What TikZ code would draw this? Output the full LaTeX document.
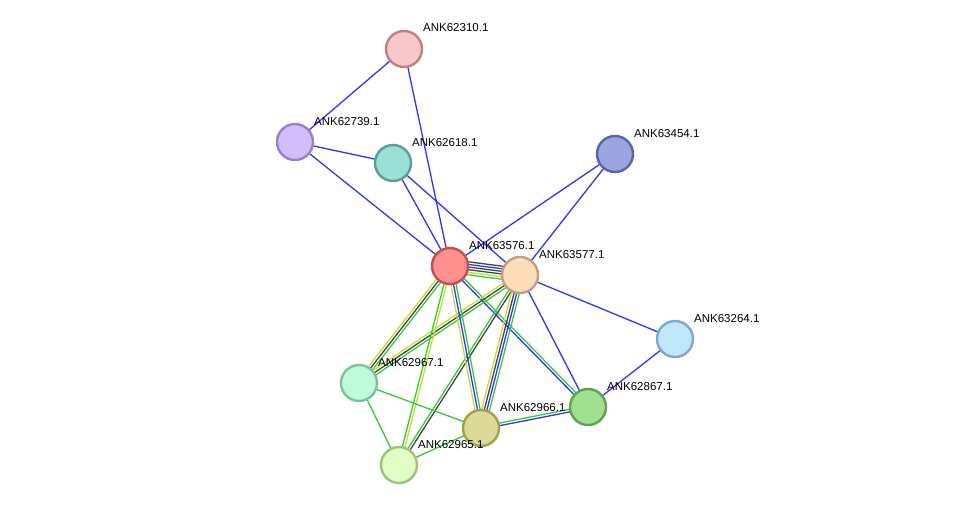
\documentclass[tikz,border=0pt]{standalone}
\usepackage{fontspec}
\setmainfont{Liberation Sans}
\usetikzlibrary{calc}
\definecolor{eblue}{HTML}{3333FF}
\definecolor{egreen}{HTML}{33CC33}
\definecolor{eyellow}{HTML}{C8DC32}
\definecolor{eblack}{HTML}{444444}
\tikzset{
  prot/.style={circle,minimum size=36pt,inner sep=0pt,line width=2.4pt},
  lab/.style={anchor=base west,font=\fontsize{11.5pt}{13pt}\selectfont,inner sep=0pt,text=black},
  edge/.style={line width=1.3pt},
}
\newcommand{\medge}[3]{%
  \foreach \dd/\cc in {#3}{%
    \draw[edge,\cc] ($(#1)!\dd!90:(#2)$) -- ($(#2)!\dd!-90:(#1)$);%
  }%
}
\begin{document}
\begin{tikzpicture}[x=1pt,y=-1pt]
\useasboundingbox (0,0) rectangle (976,511);
% node coordinates
\coordinate (c62310) at (404,49);
\coordinate (c62739) at (295,142);
\coordinate (c62618) at (393,163);
\coordinate (c63454) at (615,154);
\coordinate (c63576) at (450,266);
\coordinate (c63577) at (520,275);
\coordinate (c63264) at (675,339);
\coordinate (c62967) at (359,383);
\coordinate (c62867) at (588,407);
\coordinate (c62966) at (481,428);
\coordinate (c62965) at (399,465);
% edges
\medge{c62310}{c62739}{0pt/eblue}
\medge{c62310}{c63576}{0pt/eblue}
\medge{c62739}{c62618}{0pt/eblue}
\medge{c62739}{c63576}{0pt/eblue}
\medge{c62618}{c63576}{0pt/eblue}
\medge{c62618}{c63577}{0pt/eblue}
\medge{c63454}{c63576}{0pt/eblue}
\medge{c63454}{c63577}{0pt/eblue}
\medge{c63577}{c63264}{0pt/eblue}
\medge{c63264}{c62867}{0pt/eblue}
\medge{c63577}{c62867}{0pt/eblue}
\medge{c63576}{c62867}{-1.3pt/eblue,1.3pt/egreen}
\medge{c63576}{c63577}{-6.5pt/egreen,-3.9pt/eyellow,-1.3pt/eblack,1.3pt/eblack,3.9pt/eblue,6.5pt/eblack}
\medge{c63576}{c62967}{-2.6pt/eyellow,0pt/eblack,2.6pt/egreen}
\medge{c63577}{c62967}{-2.6pt/eyellow,0pt/eblack,2.6pt/egreen}
\medge{c63576}{c62965}{-1.3pt/egreen,1.3pt/eyellow}
\medge{c63577}{c62965}{-1.3pt/egreen,1.3pt/eblack}
\medge{c63576}{c62966}{2.6pt/egreen,0pt/eblue,-2.6pt/eyellow}
\medge{c63577}{c62966}{3.9pt/egreen,1.3pt/eblue,-1.3pt/eblack,-3.9pt/eyellow}
\medge{c62967}{c62966}{0pt/egreen}
\medge{c62967}{c62965}{0pt/egreen}
\medge{c62965}{c62966}{0pt/egreen}
\medge{c62966}{c62867}{-1.3pt/eblue,1.3pt/egreen}
% nodes
\node[prot,fill={rgb,255:red,248;green,200;blue,200},draw={rgb,255:red,192;green,128;blue,128}] (n62310) at (c62310) {};
\node[prot,fill={rgb,255:red,210;green,190;blue,250},draw={rgb,255:red,154;green,128;blue,200}] (n62739) at (c62739) {};
\node[prot,fill={rgb,255:red,153;green,223;blue,214},draw={rgb,255:red,90;green,158;blue,148}] (n62618) at (c62618) {};
\node[prot,fill={rgb,255:red,155;green,165;blue,224},draw={rgb,255:red,90;green,100;blue,168}] (n63454) at (c63454) {};
\node[prot,fill={rgb,255:red,255;green,144;blue,144},draw={rgb,255:red,192;green,80;blue,80}] (n63576) at (c63576) {};
\node[prot,fill={rgb,255:red,253;green,220;blue,186},draw={rgb,255:red,192;green,160;blue,128}] (n63577) at (c63577) {};
\node[prot,fill={rgb,255:red,192;green,230;blue,250},draw={rgb,255:red,128;green,168;blue,200}] (n63264) at (c63264) {};
\node[prot,fill={rgb,255:red,191;green,250;blue,218},draw={rgb,255:red,128;green,192;blue,160}] (n62967) at (c62967) {};
\node[prot,fill={rgb,255:red,160;green,222;blue,144},draw={rgb,255:red,96;green,160;blue,80}] (n62867) at (c62867) {};
\node[prot,fill={rgb,255:red,220;green,218;blue,150},draw={rgb,255:red,160;green,160;blue,80}] (n62966) at (c62966) {};
\node[prot,fill={rgb,255:red,225;green,255;blue,196},draw={rgb,255:red,160;green,192;blue,128}] (n62965) at (c62965) {};
% labels
\node[lab] (l62310) at (423,32) {ANK62310.1};
\node[lab] (l62739) at (314,125) {ANK62739.1};
\node[lab] (l62618) at (412,146) {ANK62618.1};
\node[lab] (l63454) at (634,137) {ANK63454.1};
\node[lab] (l63576) at (469,249) {ANK63576.1};
\node[lab] (l63577) at (539,258) {ANK63577.1};
\node[lab] (l63264) at (694,322) {ANK63264.1};
\node[lab] (l62967) at (378,366) {ANK62967.1};
\node[lab] (l62867) at (607,390) {ANK62867.1};
\node[lab] (l62966) at (500,411) {ANK62966.1};
\node[lab] (l62965) at (418,448) {ANK62965.1};
\end{tikzpicture}
\end{document}
